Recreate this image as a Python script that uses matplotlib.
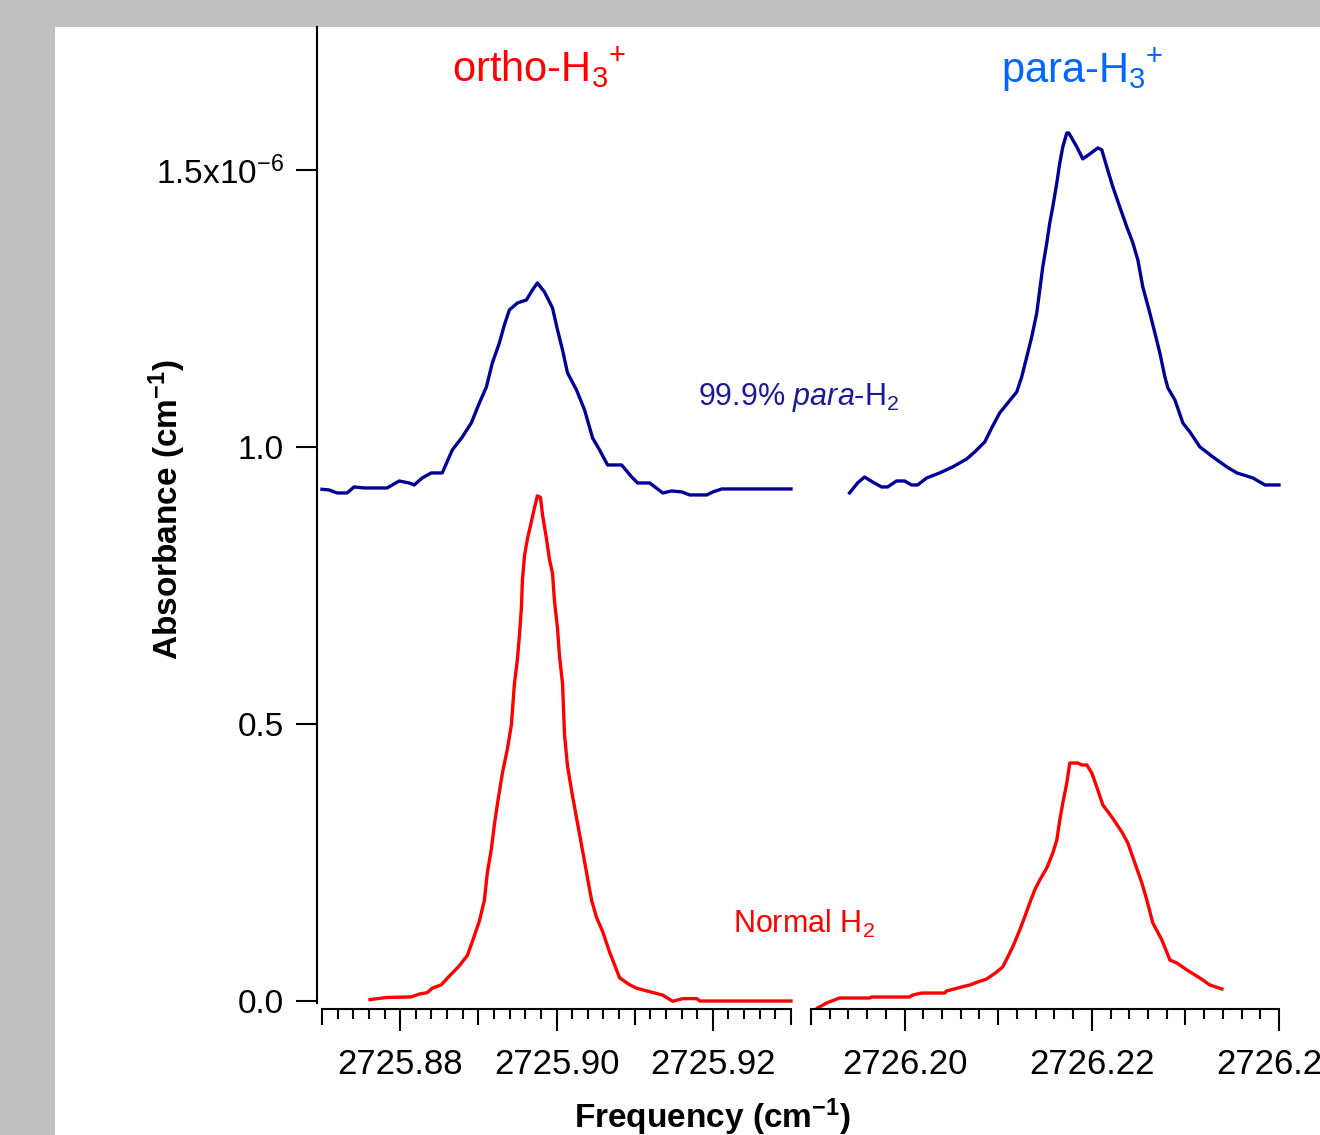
import matplotlib.pyplot as plt
from matplotlib.patches import Rectangle
from matplotlib.ticker import FixedLocator, FormatStrFormatter
import numpy as np

plt.rcParams['font.family'] = ['Liberation Sans', 'DejaVu Sans']
plt.rcParams['mathtext.fontset'] = 'custom'
plt.rcParams['mathtext.rm'] = 'Liberation Sans'
plt.rcParams['mathtext.it'] = 'Liberation Sans:italic'
plt.rcParams['mathtext.bf'] = 'Liberation Sans:bold'
plt.rcParams['mathtext.default'] = 'regular'

# absorbance values are in units of 1e-6 cm^-1
# ortho-H3+ line window, 99.9% para-H2 sample (blue)
ortho_freq_para = [2725.8700, 2725.87090, 2725.87192, 2725.87321, 2725.87410, 2725.87538,
                   2725.87833, 2725.87987, 2725.88115, 2725.88179, 2725.88282, 2725.88397,
                   2725.88538, 2725.88667, 2725.88795, 2725.88910, 2725.89013, 2725.89103,
                   2725.89179, 2725.89269, 2725.89333, 2725.89397, 2725.89500, 2725.89615,
                   2725.89692, 2725.89756, 2725.89846, 2725.89949, 2725.90013, 2725.90077,
                   2725.90141, 2725.90256, 2725.90359, 2725.90462, 2725.90551, 2725.90654,
                   2725.90833, 2725.90962, 2725.91038, 2725.91192, 2725.91359, 2725.91474,
                   2725.91603, 2725.91705, 2725.91923, 2725.92000, 2725.92115, 2725.9300]
ortho_abs_para = [0.9236, 0.9224, 0.9170, 0.9170, 0.9278, 0.9260,
                  0.9260, 0.9386, 0.9350, 0.9314, 0.9440, 0.9531,
                  0.9531, 0.9946, 1.0181, 1.0433, 1.0794, 1.1083,
                  1.1516, 1.1877, 1.2202, 1.2473, 1.2599, 1.2653,
                  1.2834, 1.2960, 1.2798, 1.2509, 1.2112, 1.1751,
                  1.1336, 1.1029, 1.0668, 1.0162, 0.9946, 0.9675,
                  0.9675, 0.9458, 0.9350, 0.9350, 0.9170, 0.9206,
                  0.9188, 0.9134, 0.9134, 0.9188, 0.9242, 0.9242]

# ortho-H3+ line window, normal H2 sample (red)
ortho_freq_normal = [2725.87615, 2725.87821, 2725.88141, 2725.88244, 2725.88346, 2725.88410,
                     2725.88526, 2725.88628, 2725.88756, 2725.88859, 2725.88923, 2725.89013,
                     2725.89077, 2725.89115, 2725.89167, 2725.89205, 2725.89244, 2725.89308,
                     2725.89372, 2725.89423, 2725.89436, 2725.89462, 2725.89500, 2725.89526,
                     2725.89551, 2725.89564, 2725.89590, 2725.89628, 2725.89679, 2725.89718,
                     2725.89756, 2725.89795, 2725.89821, 2725.89872, 2725.89910, 2725.89949,
                     2725.89974, 2725.90013, 2725.90038, 2725.90077, 2725.90103, 2725.90141,
                     2725.90192, 2725.90256, 2725.90321, 2725.90385, 2725.90449, 2725.90513,
                     2725.90590, 2725.90679, 2725.90808, 2725.90936, 2725.91026, 2725.91192,
                     2725.91359, 2725.91487, 2725.91615, 2725.91795, 2725.91833, 2725.9300]
ortho_abs_normal = [0.0025, 0.0063, 0.0074, 0.0125, 0.0150, 0.0231,
                    0.0292, 0.0448, 0.0634, 0.0822, 0.1069, 0.1442,
                    0.1816, 0.2312, 0.2747, 0.3182, 0.3556, 0.4116,
                    0.4551, 0.4986, 0.5235, 0.5731, 0.6166, 0.6601,
                    0.7099, 0.7596, 0.8031, 0.8341, 0.8652, 0.8901,
                    0.9119, 0.9088, 0.8776, 0.8341, 0.7969, 0.7720,
                    0.7222, 0.6726, 0.6227, 0.5731, 0.4798, 0.4240,
                    0.3805, 0.3307, 0.2810, 0.2312, 0.1816, 0.1504,
                    0.1256, 0.0883, 0.0417, 0.0292, 0.0231, 0.0168,
                    0.0106, -0.0005, 0.0043, 0.0043, 0.0, 0.0]

# para-H3+ line window, 99.9% para-H2 sample (blue)
para_freq_para = [2726.19412, 2726.19497, 2726.19572, 2726.19658, 2726.19754, 2726.19818,
                  2726.19914, 2726.20000, 2726.20075, 2726.20139, 2726.20235, 2726.20374,
                  2726.20513, 2726.20663, 2726.20749, 2726.20856, 2726.20930, 2726.21016,
                  2726.21102, 2726.21198, 2726.21251, 2726.21305, 2726.21358, 2726.21412,
                  2726.21444, 2726.21476, 2726.21519, 2726.21551, 2726.21583, 2726.21626,
                  2726.21658, 2726.21690, 2726.21733, 2726.21754, 2726.21840, 2726.21904,
                  2726.21979, 2726.22064, 2726.22107, 2726.22160, 2726.22225, 2726.22299,
                  2726.22374, 2726.22439, 2726.22492, 2726.22545, 2726.22620, 2726.22674,
                  2726.22727, 2726.22781, 2726.22813, 2726.22888, 2726.22973, 2726.23048,
                  2726.23155, 2726.23294, 2726.23444, 2726.23551, 2726.23722, 2726.23850,
                  2726.2400]
para_abs_para = [0.9170, 0.9350, 0.9458, 0.9368, 0.9278, 0.9278,
                 0.9386, 0.9386, 0.9314, 0.9314, 0.9440, 0.9531,
                 0.9639, 0.9783, 0.9910, 1.0090, 1.0343, 1.0614,
                 1.0794, 1.0993, 1.1264, 1.1625, 1.1986, 1.2419,
                 1.2834, 1.3249, 1.3682, 1.4043, 1.4332, 1.4765,
                 1.5126, 1.5415, 1.5668, 1.5668, 1.5415, 1.5199,
                 1.5289, 1.5397, 1.5361, 1.5054, 1.4693, 1.4332,
                 1.3971, 1.3682, 1.3375, 1.2888, 1.2419, 1.2058,
                 1.1697, 1.1264, 1.1065, 1.0848, 1.0433, 1.0271,
                 1.0000, 0.9819, 0.9639, 0.9531, 0.9440, 0.9314,
                 0.9314]

# para-H3+ line window, normal H2 sample (red)
para_freq_normal = [2726.19070, 2726.19166, 2726.19305, 2726.19626, 2726.19647, 2726.20053,
                    2726.20086, 2726.20182, 2726.20428, 2726.20449, 2726.20610, 2726.20695,
                    2726.20781, 2726.20877, 2726.20984, 2726.21048, 2726.21102, 2726.21155,
                    2726.21230, 2726.21283, 2726.21337, 2726.21390, 2726.21444, 2726.21519,
                    2726.21583, 2726.21626, 2726.21658, 2726.21690, 2726.21733, 2726.21765,
                    2726.21850, 2726.21893, 2726.21947, 2726.22000, 2726.22053, 2726.22118,
                    2726.22214, 2726.22321, 2726.22385, 2726.22460, 2726.22535, 2726.22588,
                    2726.22652, 2726.22749, 2726.22834, 2726.22909, 2726.23016, 2726.23155,
                    2726.23262, 2726.23390]
para_abs_normal = [-0.0126, -0.0036, 0.0054, 0.0054, 0.0072, 0.0072,
                   0.0108, 0.0144, 0.0144, 0.0181, 0.0253, 0.0289,
                   0.0343, 0.0397, 0.0523, 0.0614, 0.0794, 0.0975,
                   0.1282, 0.1516, 0.1769, 0.2004, 0.2184, 0.2401,
                   0.2671, 0.2906, 0.3267, 0.3574, 0.3935, 0.4296,
                   0.4296, 0.4260, 0.4260, 0.4116, 0.3863, 0.3538,
                   0.3321, 0.3051, 0.2852, 0.2491, 0.2130, 0.1823,
                   0.1408, 0.1101, 0.0740, 0.0686, 0.0560, 0.0415,
                   0.0289, 0.0217]

abs_ticks = [0.0, 0.5, 1.0, 1.5]
abs_tick_labels = ['0.0', '0.5', '1.0', r'1.5x10$^{-6}$']
ortho_range = (2725.87, 2725.93)
para_range = (2726.19, 2726.24)

BLUE = '#000096'
RED = '#ff0000'

W, H = 1320, 1135
fig = plt.figure(figsize=(W / 100, H / 100), dpi=100)
fig.patch.set_facecolor('#c0c0c0')
fig.add_artist(Rectangle((55 / W, 0), 1 - 55 / W, 1 - 27 / H, transform=fig.transFigure,
                         facecolor='white', edgecolor='none', zorder=-10))

ax_o = fig.add_axes([322 / W, 1 - 1003 / H, 469 / W, 976 / H])
ax_p = fig.add_axes([811 / W, 1 - 1003 / H, 468 / W, 976 / H])


def setup_freq_axis(ax, xr, majors):
    ax.set_xlim(*xr)
    ax.set_ylim(-0.0036, 1.758)
    ax.patch.set_visible(False)
    for side in ['top', 'right']:
        ax.spines[side].set_visible(False)
    ax.spines['bottom'].set_position(('outward', 4.3))
    ax.spines['bottom'].set_linewidth(1.5)
    minors = [m for m in np.round(np.arange(xr[0], xr[1] + 1e-6, 0.002), 3)
              if min(abs(m - M) for M in majors) > 1e-6]
    ax.xaxis.set_major_locator(FixedLocator(majors))
    ax.xaxis.set_minor_locator(FixedLocator(minors))
    ax.xaxis.set_major_formatter(FormatStrFormatter('%.2f'))
    ax.tick_params(axis='x', which='major', direction='out', length=16, width=1.5,
                   labelsize=25, pad=12)
    ax.tick_params(axis='x', which='minor', direction='out', length=7, width=1.5)
    # Igor-style mid-length ticks at every 0.01
    locs = ax.xaxis.get_minorticklocs()
    for tick, loc in zip(ax.xaxis.get_minor_ticks(len(locs)), locs):
        if abs(loc * 100 - round(loc * 100)) < 1e-5:
            tick.tick1line.set_markersize(11.5)


setup_freq_axis(ax_o, ortho_range, [2725.88, 2725.90, 2725.92])
setup_freq_axis(ax_p, para_range, [2726.20, 2726.22, 2726.24])

ax_o.spines['left'].set_position(('outward', 3.6))
ax_o.spines['left'].set_linewidth(1.5)
ax_o.set_yticks(abs_ticks)
ax_o.set_yticklabels(abs_tick_labels)
ax_o.tick_params(axis='y', direction='out', length=15, width=1.5, labelsize=24, pad=9)

ax_p.spines['left'].set_visible(False)
ax_p.tick_params(axis='y', left=False, labelleft=False)

ax_o.plot(ortho_freq_para, ortho_abs_para, color=BLUE, lw=2.4, clip_on=False)
ax_o.plot(ortho_freq_normal, ortho_abs_normal, color=RED, lw=2.4, clip_on=False)
ax_p.plot(para_freq_para, para_abs_para, color=BLUE, lw=2.4, clip_on=False)
ax_p.plot(para_freq_normal, para_abs_normal, color=RED, lw=2.4, clip_on=False)

fig.text(452 / W, 1 - 82 / H, r'ortho-H$_3\!{}^+$', color=RED, fontsize=30, va='baseline')
fig.text(1001 / W, 1 - 82 / H, r'para-H$_3\!{}^+$', color='#0066ff', fontsize=30,
         va='baseline')
fig.text(698 / W, 1 - 405 / H, r'99.9% $\mathit{para}$-H$_2$', color='#1a1a99',
         fontsize=22, va='baseline')
fig.text(733 / W, 1 - 933 / H, r'Normal H$_2$', color=RED, fontsize=22, va='baseline')

fig.text(712 / W, 1 - 1128 / H, r'Frequency (cm$^{-1}$)', fontsize=24, fontweight='bold',
         ha='center', va='baseline')
fig.text(167 / W, 1 - 510 / H, r'Absorbance (cm$^{-1}$)', fontsize=24, fontweight='bold',
         rotation=90, ha='center', va='center')

fig.savefig('out.png', dpi=100, facecolor=fig.get_facecolor())
